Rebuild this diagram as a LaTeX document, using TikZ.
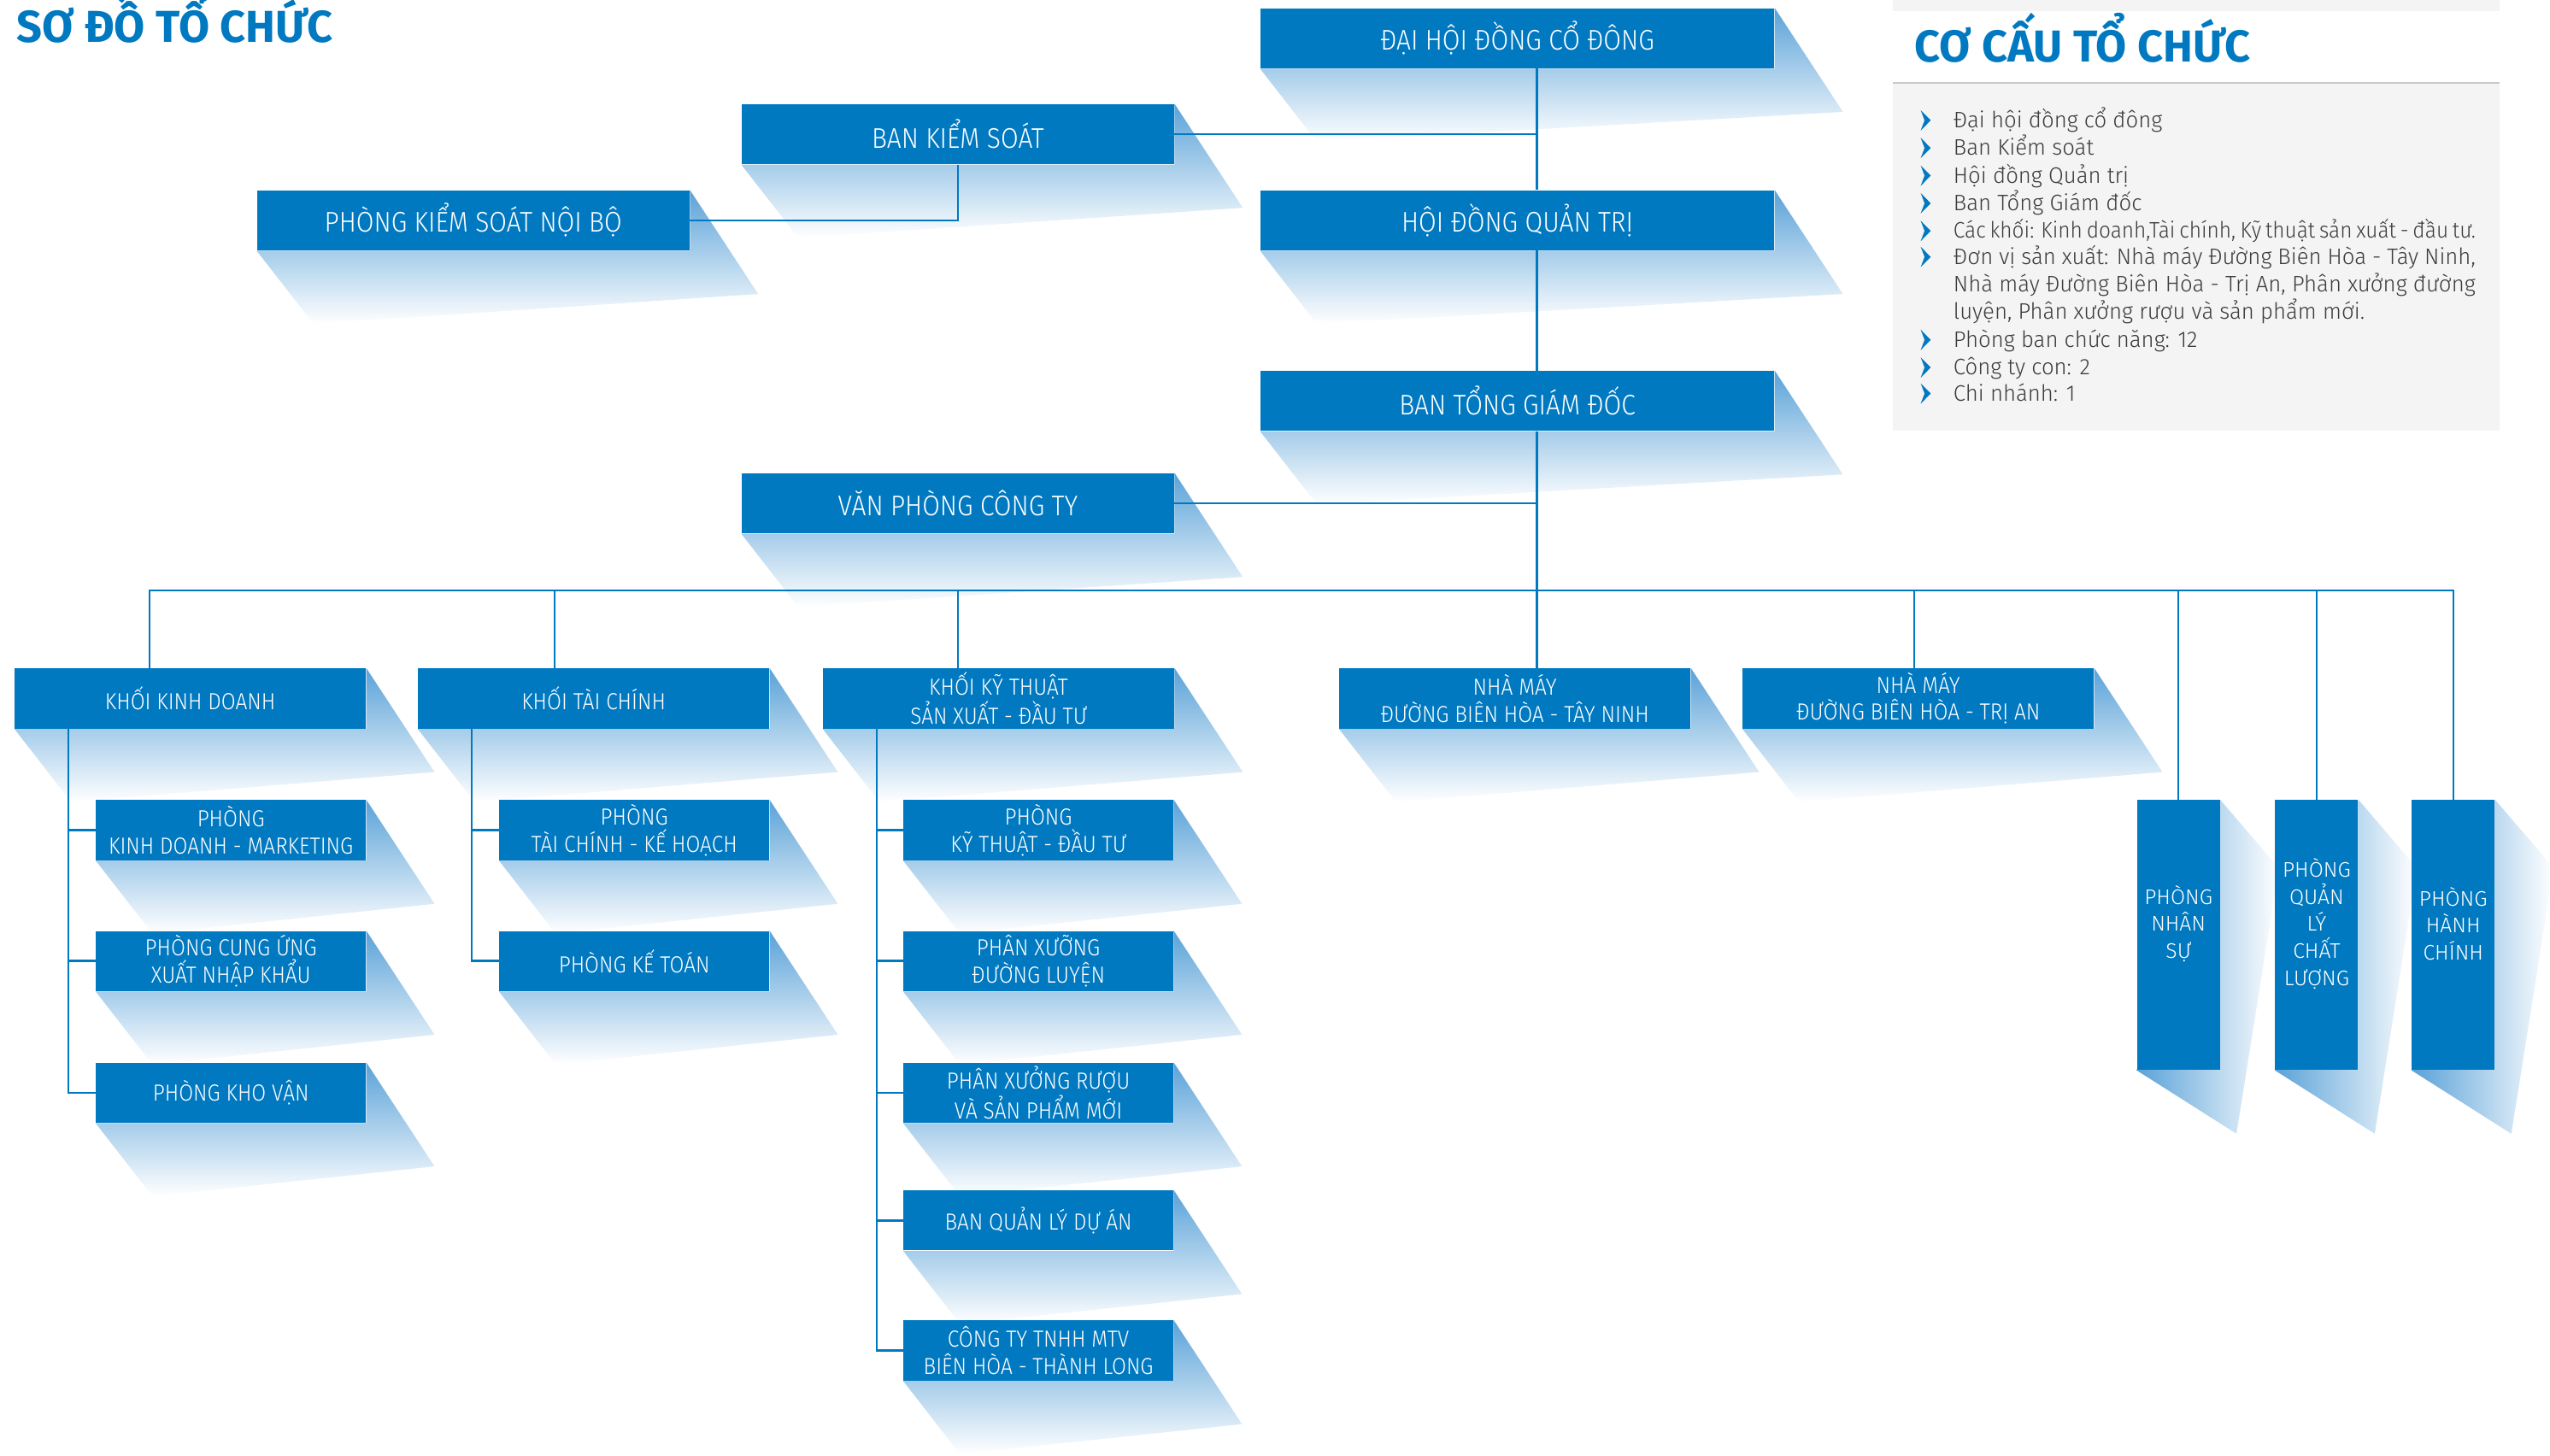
\documentclass[tikz,border=0pt]{standalone}
\usepackage{fontspec}
\setmainfont{Fira Sans}
\newfontfamily\lightfont{Fira Sans Light}
\newfontfamily\boxfont{Fira Sans Light}[FakeStretch=0.9]
\newfontfamily\listfont{Fira Sans Light}[FakeStretch=0.98]
\newfontfamily\listfontc{Fira Sans Light}[FakeStretch=0.93]
\newfontfamily\titlefont{Fira Sans}
\usetikzlibrary{calc,backgrounds}
\definecolor{mblue}{RGB}{0,121,193}
\definecolor{shblue}{RGB}{90,162,216}
\definecolor{panelgray}{RGB}{244,244,244}
\definecolor{rulegray}{RGB}{200,200,200}
\definecolor{txtgray}{RGB}{60,60,60}
\tikzset{
  orgbox/.style={fill=mblue, text=white, inner sep=0pt, minimum height=37pt, align=center,
    font=\boxfont\fontsize{17.5}{18}\selectfont},
  bigbox/.style={orgbox, minimum width=316pt},
  midbox/.style={orgbox, minimum width=266pt},
  unitbox/.style={orgbox, minimum width=216pt, font=\boxfont\fontsize{14.3}{16.5}\selectfont},
  subbox/.style={orgbox, minimum width=166pt, font=\boxfont\fontsize{14.3}{16.8}\selectfont},
  tallbox/.style={fill=mblue, inner sep=0pt, minimum width=51pt, minimum height=166pt},
  talltext/.style={text=white, inner sep=0pt, align=center, font=\lightfont\fontsize{13}{16.6}\selectfont},
  link/.style={draw=mblue, line width=1.3pt},
  listtext/.style={anchor=base west, inner sep=0pt, text=txtgray, font=\listfont\fontsize{13.8}{16}\selectfont},
  bigtitle/.style={anchor=base west, inner sep=0pt, text=mblue, font=\titlefont\bfseries\fontsize{27.5}{30}\selectfont},
}
\newcommand\hsh[1]{\shade[top color=shblue, bottom color=white]
  (#1.south west) -- ($(#1.south west)+(35,45)$) -- ($(#1.north east)+(42,64)$)
  -- (#1.north east) -- (#1.south east) -- cycle;}
\newcommand\vsh[1]{\shade[left color=shblue, right color=white]
  (#1.south west) -- ($(#1.south east)+(10,39)$) -- ($(#1.north east)+(36,42)$)
  -- (#1.north east) -- cycle;}
\newcommand\chev[2]{\fill[mblue,shift={(#1,#2)}] (0,-6.3) .. controls (2.7,-3.4) .. (6.2,0)
  .. controls (2.7,3.4) .. (0,6.3) .. controls (1.2,2.9) .. (2.4,0)
  .. controls (1.2,-2.9) .. (0,-6.3) -- cycle;}
\begin{document}
\begin{tikzpicture}[x=1pt,y=-1pt]
\useasboundingbox (0,0) rectangle (1568,895);
% titles
\node[bigtitle] (title) at (10,26) {SƠ ĐỒ TỔ CHỨC};
% boxes
\node[bigbox] (dh)  at (933,23.5)  {ĐẠI HỘI ĐỒNG CỔ ĐÔNG};
\node[midbox] (bks) at (589,82.5)  {BAN KIỂM SOÁT};
\node[midbox] (pks) at (291,135.5) {PHÒNG KIỂM SOÁT NỘI BỘ};
\node[bigbox] (hd)  at (933,135.5) {HỘI ĐỒNG QUẢN TRỊ};
\node[bigbox] (btg) at (933,246.5) {BAN TỔNG GIÁM ĐỐC};
\node[midbox] (vp)  at (589,309.5) {VĂN PHÒNG CÔNG TY};
\node[unitbox] (kkd) at (117,429.5)   {KHỐI KINH DOANH};
\node[unitbox] (ktc) at (365,429.5)   {KHỐI TÀI CHÍNH};
\node[unitbox] (kkt) at (614,429.5)   {KHỐI KỸ THUẬT\\SẢN XUẤT - ĐẦU TƯ};
\node[unitbox] (nm1) at (931.5,429.5) {NHÀ MÁY\\ĐƯỜNG BIÊN HÒA - TÂY NINH};
\node[unitbox] (nm2) at (1179.5,429.5){NHÀ MÁY\\ĐƯỜNG BIÊN HÒA - TRỊ AN};
\node[subbox] (kd1) at (142,510.5) {PHÒNG\\KINH DOANH - MARKETING};
\node[subbox] (kd2) at (142,591)   {PHÒNG CUNG ỨNG\\XUẤT NHẬP KHẨU};
\node[subbox] (kd3) at (142,672)   {PHÒNG KHO VẬN};
\node[subbox] (tc1) at (390,510.5) {PHÒNG\\TÀI CHÍNH - KẾ HOẠCH};
\node[subbox] (tc2) at (390,591)   {PHÒNG KẾ TOÁN};
\node[subbox] (kt1) at (638.5,510.5) {PHÒNG\\KỸ THUẬT - ĐẦU TƯ};
\node[subbox] (kt2) at (638.5,591)   {PHÂN XƯỠNG\\ĐƯỜNG LUYỆN};
\node[subbox] (kt3) at (638.5,672)   {PHÂN XƯỞNG RƯỢU\\VÀ SẢN PHẨM MỚI};
\node[subbox] (kt4) at (638.5,750.5) {BAN QUẢN LÝ DỰ ÁN};
\node[subbox] (kt5) at (638.5,830.5) {CÔNG TY TNHH MTV\\BIÊN HÒA - THÀNH LONG};
\node[tallbox] (ns) at (1339.5,575) {};
\node[tallbox] (ql) at (1424.5,575) {};
\node[tallbox] (hc) at (1508.5,575) {};
\node[talltext] (nst) at (1339.5,568) {PHÒNG\\NHÂN\\SỰ};
\node[talltext] (qlt) at (1424.5,568) {PHÒNG\\QUẢN\\LÝ\\CHẤT\\LƯỢNG};
\node[talltext] (hct) at (1508.5,568) {PHÒNG\\HÀNH\\CHÍNH};
% junction coordinates
\coordinate (tx) at (945,363);
\coordinate (busL) at (92,363);
\coordinate (c2) at (341,363);
\coordinate (c3) at (589,363);
\coordinate (c5) at (1177,363);
\coordinate (kx) at (42,0);
\coordinate (cx) at (290,0);
\coordinate (ex) at (539,0);
% right panel text
\node[bigtitle] (ptitle) at (1177,38) {CƠ CẤU TỔ CHỨC};
\node[listtext] (l1) at (1201,78.5)  {Đại hội đồng cổ đông};
\node[listtext] (l2) at (1201,95.5)  {Ban Kiểm soát};
\node[listtext] (l3) at (1201,112.5) {Hội đồng Quản trị};
\node[listtext] (l4) at (1201,129.5) {Ban Tổng Giám đốc};
\node[listtext] (l5) at (1201,146.5) {\listfontc\makebox[321pt][s]{Các khối: Kinh doanh,Tài chính, Kỹ thuật sản xuất - đầu tư.}};
\node[listtext] (l6) at (1201,162.5) {\makebox[321pt][s]{Đơn vị sản xuất: Nhà máy Đường Biên Hòa - Tây Ninh,}};
\node[listtext] (l6b) at (1201,179.5) {\makebox[321pt][s]{Nhà máy Đường Biên Hòa - Trị An, Phân xưởng đường}};
\node[listtext] (l6c) at (1201,196.5) {luyện, Phân xưởng rượu và sản phẩm mới.};
\node[listtext] (l7) at (1201,213.5) {Phòng ban chức năng: 12};
\node[listtext] (l8) at (1201,230.5) {Công ty con: 2};
\node[listtext] (l9) at (1201,246.5) {Chi nhánh: 1};
\begin{pgfonlayer}{background}
  % panel
  \fill[panelgray] (1164,0) rectangle (1537,7);
  \fill[panelgray] (1164,51) rectangle (1537,265);
  \draw[rulegray, line width=0.8pt] (1164,51) -- (1537,51);
  % shadows
  \foreach \b in {dh,bks,pks,hd,btg,vp,kkd,ktc,kkt,nm1,nm2,kd1,kd2,kd3,tc1,tc2,kt1,kt2,kt3,kt4,kt5}{\hsh{\b}}
  \foreach \b in {ns,ql,hc}{\vsh{\b}}
  % connectors
  \draw[link] (dh.south -| tx) -- (hd.north -| tx);
  \draw[link] (hd.south -| tx) -- (btg.north -| tx);
  \draw[link] (btg.south -| tx) -- (nm1.north -| tx);
  \draw[link] (bks.east) -- (bks.east -| tx);
  \draw[link] (bks.south) |- (pks.east);
  \draw[link] (vp.east) -- (vp.east -| tx);
  \draw[link] (busL |- kkd.north) -- (busL) -- (busL -| hc.north) -- (hc.north);
  \draw[link] (c2) -- (c2 |- ktc.north);
  \draw[link] (c3) -- (c3 |- kkt.north);
  \draw[link] (c5) -- (c5 |- nm2.north);
  \draw[link] (ns.north |- busL) -- (ns.north);
  \draw[link] (ql.north |- busL) -- (ql.north);
  \draw[link] (kkd.south -| kx) |- (kd3.west);
  \draw[link] (kx |- kd1.west) -- (kd1.west);
  \draw[link] (kx |- kd2.west) -- (kd2.west);
  \draw[link] (ktc.south -| cx) |- (tc2.west);
  \draw[link] (cx |- tc1.west) -- (tc1.west);
  \draw[link] (kkt.south -| ex) |- (kt5.west);
  \draw[link] (ex |- kt1.west) -- (kt1.west);
  \draw[link] (ex |- kt2.west) -- (kt2.west);
  \draw[link] (ex |- kt3.west) -- (kt3.west);
  \draw[link] (ex |- kt4.west) -- (kt4.west);
\end{pgfonlayer}
% bullets
\chev{1181}{74}\chev{1181}{91}\chev{1181}{108}\chev{1181}{125}\chev{1181}{142}
\chev{1181}{158}\chev{1181}{209}\chev{1181}{226}\chev{1181}{242}
\end{tikzpicture}
\end{document}
